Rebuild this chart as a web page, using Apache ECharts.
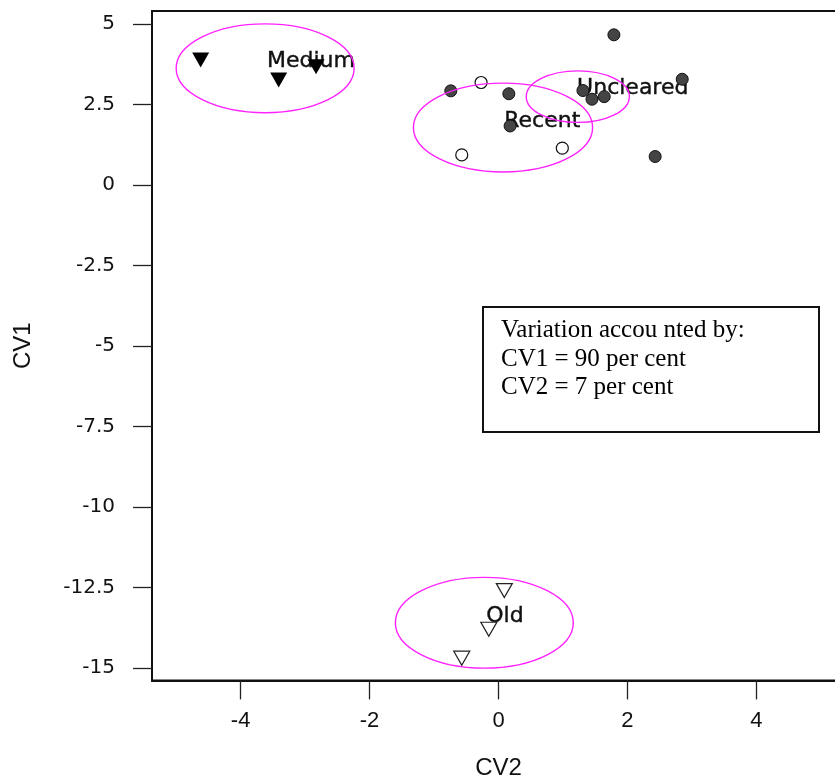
<!DOCTYPE html>
<html><head><meta charset="utf-8">
<script src="https://cdn.jsdelivr.net/npm/echarts@6/dist/echarts.min.js"></script>
<style>html,body{margin:0;padding:0;background:#fff}#c{width:835px;height:778px}</style>
</head><body><div id="c"></div>
<script>
// ---- data ----
const xTicks = [-4, -2, 0, 2, 4];
const yTicks = [5, 2.5, 0, -2.5, -5, -7.5, -10, -12.5, -15];
const mediumPts = [[-4.62, 3.88], [-3.41, 3.26], [-2.83, 3.67]];
const unclearedPts = [[1.79, 4.66], [-0.74, 2.92], [0.16, 2.83], [0.18, 1.83], [1.31, 2.93], [1.45, 2.66], [1.64, 2.74], [2.85, 3.28], [2.43, 0.88]];
const recentPts = [[-0.27, 3.18], [-0.57, 0.93], [0.99, 1.14]];
const oldPts = [[0.09, -12.60], [-0.15, -13.80], [-0.57, -14.70]];
const groupNames = ['Medium', 'Uncleared', 'Recent', 'Old'];
const labelX = [-3.59, 1.22, 0.09, -0.19];
const labelY = [3.83, 3.01, 1.97, -13.41];
const ellipseCx = [-3.62, 1.23, 0.07, -0.22];
const ellipseCy = [3.62, 2.74, 1.78, -13.60];
const ellipseRx = [1.38, 0.80, 1.39, 1.38];
const ellipseRy = [1.38, 0.80, 1.38, 1.41];
const noteLines = ['Variation accou nted by:', 'CV1 = 90 per cent', 'CV2 = 7 per cent'];

const chart = echarts.init(document.getElementById('c'), null, {renderer: 'canvas'});
const sans = 'DejaVu Sans, Liberation Sans, Arial, sans-serif';
const serifFont = '25px "Liberation Serif", "Times New Roman", serif';
const labelData = groupNames.map((n, i) => ({name: n, value: [labelX[i], labelY[i]]}));
const ellipseData = groupNames.map((n, i) => [ellipseCx[i], ellipseCy[i], ellipseRx[i], ellipseRy[i]]);

chart.setOption({
  animation: false,
  backgroundColor: '#fff',
  grid: {left: 152, top: 11, width: 693, height: 669.4, outerBoundsMode: 'none', containLabel: false,
    show: true, borderColor: '#111', borderWidth: 2, backgroundColor: 'transparent'},
  xAxis: {
    type: 'value', min: -5.375, max: 5.375,
    name: 'CV2', nameLocation: 'middle', nameGap: 76,
    nameTextStyle: {fontFamily: 'Liberation Sans, Arial, sans-serif', fontSize: 24, color: '#111'},
    axisLine: {show: true, onZero: false, lineStyle: {color: '#111', width: 2}},
    axisTick: {show: true, length: 19, customValues: xTicks, lineStyle: {color: '#222', width: 1.3}},
    axisLabel: {customValues: xTicks, margin: 30, fontFamily: 'Liberation Sans Narrow, Liberation Sans, Arial, sans-serif', fontSize: 22, color: '#111'},
    splitLine: {show: false}
  },
  yAxis: {
    type: 'value', min: -15.39, max: 5.40,
    name: 'CV1', nameLocation: 'middle', nameGap: 117,
    nameTextStyle: {fontFamily: 'Liberation Sans, Arial, sans-serif', fontSize: 24, color: '#111'},
    axisLine: {show: true, onZero: false, lineStyle: {color: '#111', width: 2}},
    axisTick: {show: true, length: 19, customValues: yTicks, lineStyle: {color: '#222', width: 1.3}},
    axisLabel: {customValues: yTicks, margin: 37, fontFamily: sans, fontSize: 20, color: '#111'},
    splitLine: {show: false}
  },
  series: [
    {
      type: 'scatter', name: 'labels', z: 1, data: labelData, symbolSize: 0.1,
      itemStyle: {opacity: 1},
      label: {show: true, formatter: p => p.name, position: [0, 0], align: 'left', verticalAlign: 'middle',
        fontFamily: sans, fontSize: 22, color: '#111', opacity: 1, textBorderColor: '#111', textBorderWidth: 0.4}
    },
    {
      type: 'scatter', name: 'Medium', z: 3, data: mediumPts, symbol: 'triangle', symbolRotate: 180, symbolSize: [17, 15],
      itemStyle: {color: '#000', opacity: 1}
    },
    {
      type: 'scatter', name: 'Old', z: 3, data: oldPts, symbol: 'triangle', symbolRotate: 180, symbolSize: [16, 14],
      itemStyle: {color: '#fff', borderColor: '#222', borderWidth: 1.2, opacity: 1}
    },
    {
      type: 'scatter', name: 'Uncleared', z: 3, data: unclearedPts, symbol: 'circle', symbolSize: 12,
      itemStyle: {color: '#444', borderColor: '#111', borderWidth: 1, opacity: 1}
    },
    {
      type: 'scatter', name: 'Recent', z: 3, data: recentPts, symbol: 'circle', symbolSize: 12,
      itemStyle: {color: '#fff', borderColor: '#111', borderWidth: 1.2, opacity: 1}
    },
    {
      type: 'custom', name: 'ellipses', z: 4, data: ellipseData,
      renderItem: function (params, api) {
        const c = api.coord([api.value(0), api.value(1)]);
        const s = api.size([api.value(2), api.value(3)]);
        return {type: 'ellipse', shape: {cx: c[0], cy: c[1], rx: s[0], ry: s[1]},
          style: {fill: 'none', stroke: '#ff22ff', lineWidth: 1.4}};
      }
    }
  ],
  graphic: [
    {type: 'rect', left: 482, top: 306, shape: {width: 336, height: 125}, style: {fill: '#fff', stroke: '#111', lineWidth: 2}, z: 10},
    {type: 'text', x: 501, y: 330, style: {text: noteLines[0], font: serifFont, fill: '#000', textVerticalAlign: 'middle'}, z: 11},
    {type: 'text', x: 501, y: 359, style: {text: noteLines[1], font: serifFont, fill: '#000', textVerticalAlign: 'middle'}, z: 11},
    {type: 'text', x: 501, y: 387, style: {text: noteLines[2], font: serifFont, fill: '#000', textVerticalAlign: 'middle'}, z: 11}
  ]
});
</script></body></html>
